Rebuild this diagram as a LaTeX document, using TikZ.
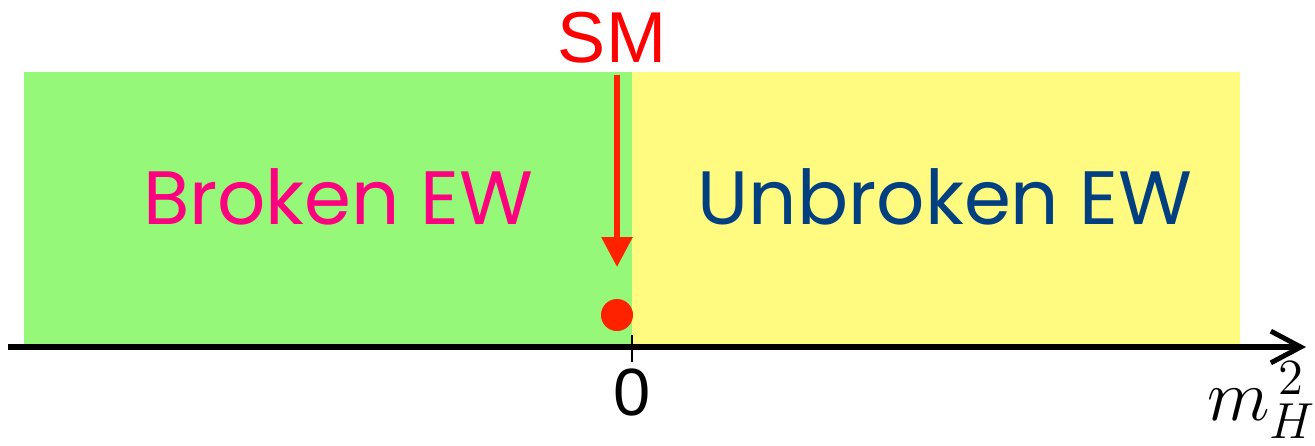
\documentclass[tikz,border=0pt]{standalone}
\usepackage{fontspec}
\setmainfont{Liberation Sans}
\newfontfamily\roundfont{Poppins}
\usepackage{tikz}
\usetikzlibrary{arrows.meta}
\definecolor{brokengreen}{RGB}{150,248,120}
\definecolor{unbrokenyellow}{RGB}{255,250,128}
\definecolor{brokenpink}{RGB}{255,0,128}
\definecolor{unbrokenblue}{RGB}{0,64,128}
\definecolor{smred}{RGB}{255,34,0}

\begin{document}
\begin{tikzpicture}[x=0.01cm,y=-0.01cm]
  \useasboundingbox (0,0) rectangle (1315,445);
  % phases
  \fill[brokengreen] (24,72) rectangle (632,345);
  \fill[unbrokenyellow] (632,72) rectangle (1240,345);
  \node[font=\roundfont\fontsize{21.5}{24}\selectfont,text=brokenpink] (broken) at (338,197) {Broken EW};
  \node[font=\roundfont\fontsize{21.5}{24}\selectfont,text=unbrokenblue] (unbroken) at (945,197) {Unbroken EW};
  % axis
  \coordinate (axl) at (8,347);
  \coordinate (axr) at (1306,347);
  \draw[line width=1.5pt,-{Straight Barb[length=8.5pt,width=9pt,line width=1.4pt]}] (axl) -- (axr);
  \draw[line width=0.4pt] (632,335) -- (632,362);
  \node[font=\fontsize{19}{22}\selectfont] (zero) at (632,392) {0};
  \node[font=\fontsize{20}{24}\selectfont,inner sep=0pt] (mass) at (1262,400) {$m_H^{\,2}$};
  % SM point
  \node[font=\fontsize{20.5}{24}\selectfont,text=red,inner sep=0pt] (sm) at (612,38) {SM};
  \coordinate (smtip) at (617,267);
  \draw[smred,line width=1.7pt,-{Triangle[length=8.5pt,width=8.5pt]}] (617,75) -- (smtip);
  \fill[smred] (617,315) circle (16);
\end{tikzpicture}
\end{document}
